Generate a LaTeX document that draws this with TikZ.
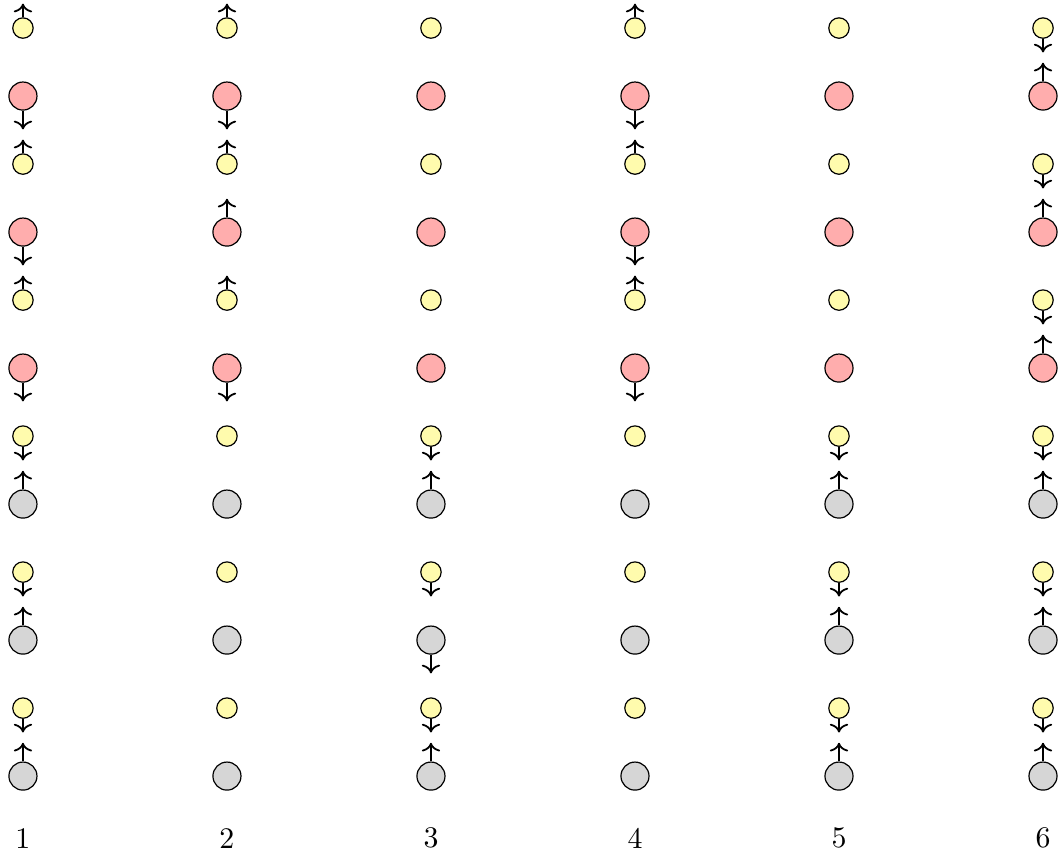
\documentclass[tikz,border=0pt]{standalone}
\usepackage{tikz}
\usetikzlibrary{arrows.meta}

\begin{document}
\begin{tikzpicture}[
  oxy/.style={circle, draw, fill=yellow!32, inner sep=0pt, minimum size=0.24cm},
  metal/.style={circle, draw, fill=red!32, inner sep=0pt, minimum size=0.33cm},
  ligand/.style={circle, draw, fill=gray!32, inner sep=0pt, minimum size=0.33cm},
  spin/.style={->, semithick}
]
\useasboundingbox (-0.27,0.33) rectangle (12.2,-9.72);
% u = spin up, d = spin down, n = no spin
\foreach \c/\spins in {1/{u,d,u,d,u,d,d,u,d,u,d,u},
                       2/{u,d,u,u,u,d,n,n,n,n,n,n},
                       3/{n,n,n,n,n,n,d,u,d,d,d,u},
                       4/{u,d,u,d,u,d,n,n,n,n,n,n},
                       5/{n,n,n,n,n,n,d,u,d,u,d,u},
                       6/{d,u,d,u,d,u,d,u,d,u,d,u}}{
  \foreach \s [count=\r] in \spins {
    \ifodd\r
      \node[oxy] (s-\c-\r) at ({2.4*(\c-1)},{-0.8*(\r-1)}) {};
      \def\len{0.16}
    \else\ifnum\r<7
      \node[metal] (s-\c-\r) at ({2.4*(\c-1)},{-0.8*(\r-1)}) {};
    \else
      \node[ligand] (s-\c-\r) at ({2.4*(\c-1)},{-0.8*(\r-1)}) {};
    \fi
      \def\len{0.22}
    \fi
    \if u\s \draw[spin] (s-\c-\r.north) -- ++(0,\len); \fi
    \if d\s \draw[spin] (s-\c-\r.south) -- ++(0,-\len); \fi
  }
  \node (lab-\c) at ({2.4*(\c-1)},-9.53) {\c};
}
\end{tikzpicture}
\end{document}
